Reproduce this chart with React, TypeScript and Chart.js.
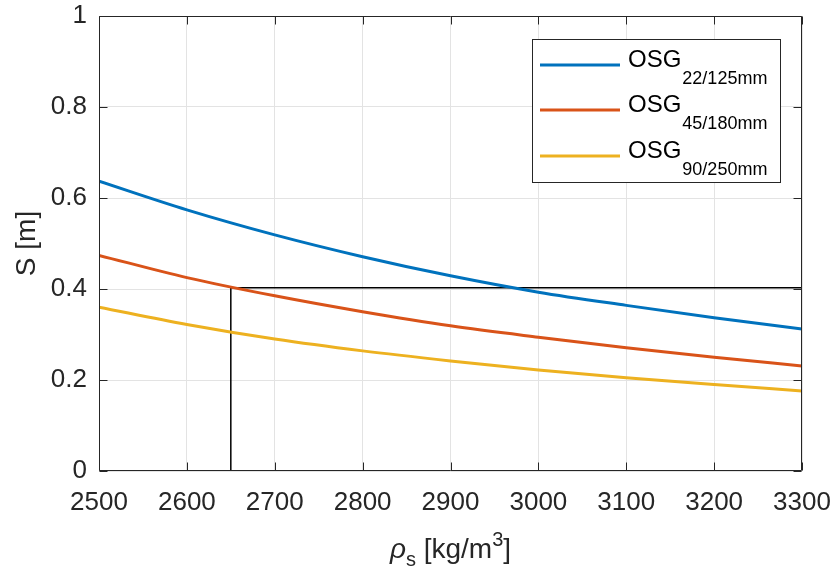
import React, { useEffect, useRef } from "react";
import { Chart, registerables } from "chart.js";

Chart.register(...registerables);

// ---- data ----
const densities = [2500, 2600, 2700, 2800, 2900, 3000, 3100, 3200, 3300];
const s22 = [0.637, 0.574, 0.519, 0.471, 0.429, 0.393, 0.364, 0.337, 0.312];
const s45 = [0.474, 0.425, 0.385, 0.350, 0.319, 0.294, 0.271, 0.250, 0.231];
const s90 = [0.360, 0.322, 0.290, 0.264, 0.242, 0.222, 0.205, 0.190, 0.176];
const seriesNames = ["OSG", "OSG", "OSG"];
const seriesSubs = ["22/125mm", "45/180mm", "90/250mm"];
const seriesColors = ["#0072BD", "#D95319", "#EDB120"];
const refDensity = 2650;
const refS = 0.403;
const xTicks = [2500, 2600, 2700, 2800, 2900, 3000, 3100, 3200, 3300];
const yTicks = [0, 0.2, 0.4, 0.6, 0.8, 1];
const yTickLabels = ["0", "0.2", "0.4", "0.6", "0.8", "1"];
const yTitle = "S [m]";

const FONT = '"Liberation Sans", Arial, Helvetica, sans-serif';
const AX = "#262626";

const framePlugin = {
  id: "frame",
  afterDatasetsDraw(chart: any) {
    const { ctx, chartArea } = chart;
    const xs = chart.scales.x;
    const ys = chart.scales.y;
    const L = Math.round(chartArea.left) + 0.5;
    const R = Math.round(chartArea.right) - 0.5;
    const T = Math.round(chartArea.top) + 0.5;
    const B = Math.round(chartArea.bottom) - 0.5;
    ctx.save();
    ctx.strokeStyle = AX;
    ctx.lineWidth = 1;
    ctx.beginPath();
    ctx.rect(L, T, R - L, B - T);
    ctx.stroke();
    const tl = 8;
    ctx.beginPath();
    xTicks.forEach((v) => {
      const px = Math.round(xs.getPixelForValue(v)) + 0.5;
      ctx.moveTo(px, B);
      ctx.lineTo(px, B - tl);
      ctx.moveTo(px, T);
      ctx.lineTo(px, T + tl);
    });
    yTicks.forEach((v) => {
      const py = Math.round(ys.getPixelForValue(v)) + 0.5;
      ctx.moveTo(L, py);
      ctx.lineTo(L + tl, py);
      ctx.moveTo(R, py);
      ctx.lineTo(R - tl, py);
    });
    ctx.stroke();

    // legend
    const lx = 532.5, ly = 39.5, lw = 248, lh = 143;
    ctx.fillStyle = "#ffffff";
    ctx.fillRect(lx, ly, lw, lh);
    ctx.strokeStyle = AX;
    ctx.strokeRect(lx, ly, lw, lh);
    const rowY = [65, 110, 156];
    seriesNames.forEach((name, i) => {
      ctx.strokeStyle = seriesColors[i];
      ctx.lineWidth = 3;
      ctx.beginPath();
      ctx.moveTo(540, rowY[i]);
      ctx.lineTo(620, rowY[i]);
      ctx.stroke();
      ctx.fillStyle = "#000000";
      ctx.textBaseline = "alphabetic";
      ctx.textAlign = "left";
      ctx.font = `24px ${FONT}`;
      ctx.fillText(name, 628, rowY[i] + 2);
      const w = ctx.measureText(name).width;
      ctx.font = `18px ${FONT}`;
      ctx.fillText(seriesSubs[i], 628 + w + 1, rowY[i] + 19);
    });

    // y title
    ctx.fillStyle = AX;
    ctx.font = `28px ${FONT}`;
    ctx.textAlign = "center";
    ctx.textBaseline = "middle";
    ctx.save();
    ctx.translate(27, (chartArea.top + chartArea.bottom) / 2);
    ctx.rotate(-Math.PI / 2);
    ctx.fillText(yTitle, 0, 0);
    ctx.restore();

    // x title: rho_s [kg/m^3]
    const parts = [
      { t: "\u03C1", f: `italic 28px ${FONT}`, dy: 0 },
      { t: "s", f: `20px ${FONT}`, dy: 8 },
      { t: " [kg/m", f: `28px ${FONT}`, dy: 0 },
      { t: "3", f: `20px ${FONT}`, dy: -12 },
      { t: "]", f: `28px ${FONT}`, dy: 0 },
    ];
    let total = 0;
    const widths = parts.map((p) => {
      ctx.font = p.f;
      const w = ctx.measureText(p.t).width;
      total += w;
      return w;
    });
    let cx = (chartArea.left + chartArea.right) / 2 - total / 2;
    const base = 558;
    ctx.textAlign = "left";
    ctx.textBaseline = "alphabetic";
    parts.forEach((p, i) => {
      ctx.font = p.f;
      ctx.fillText(p.t, cx, base + p.dy);
      cx += widths[i];
    });
    ctx.restore();
  },
};

export default function App() {
  const ref = useRef<HTMLCanvasElement | null>(null);
  useEffect(() => {
    if (!ref.current) return;
    const mk = (ys: number[]) => densities.map((x, i) => ({ x, y: ys[i] }));
    const chart = new Chart(ref.current, {
      type: "line",
      data: {
        datasets: [
          { data: mk(s22), borderColor: seriesColors[0], borderWidth: 3, pointRadius: 0, cubicInterpolationMode: "monotone", fill: false },
          { data: mk(s45), borderColor: seriesColors[1], borderWidth: 3, pointRadius: 0, cubicInterpolationMode: "monotone", fill: false },
          { data: mk(s90), borderColor: seriesColors[2], borderWidth: 3, pointRadius: 0, cubicInterpolationMode: "monotone", fill: false },
          {
            data: [
              { x: refDensity, y: 0 },
              { x: refDensity, y: refS },
              { x: xTicks[xTicks.length - 1], y: refS },
            ],
            borderColor: "#000000",
            borderWidth: 1.5,
            pointRadius: 0,
            tension: 0,
            fill: false,
          },
        ],
      },
      options: {
        responsive: false,
        animation: false,
        layout: { padding: { top: 16, right: 33, left: 0, bottom: 0 } },
        plugins: { legend: { display: false }, tooltip: { enabled: false }, title: { display: false } },
        scales: {
          x: {
            type: "linear",
            min: 2500,
            max: 3300,
            afterBuildTicks: (s: any) => {
              s.ticks = xTicks.map((v) => ({ value: v }));
            },
            afterFit: (s: any) => {
              s.height = 100;
              s.paddingLeft = 0;
              s.paddingRight = 0;
            },
            grid: { color: "#e3e3e3", drawTicks: false, lineWidth: 1 },
            border: { display: false },
            ticks: {
              autoSkip: false,
              maxRotation: 0,
              padding: 16,
              color: AX,
              font: { family: FONT, size: 26 },
              callback: (v: any) => String(v),
            },
          },
          y: {
            type: "linear",
            min: 0,
            max: 1,
            afterBuildTicks: (s: any) => {
              s.ticks = yTicks.map((v) => ({ value: v }));
            },
            afterFit: (s: any) => {
              s.width = 99;
              s.paddingTop = 0;
              s.paddingBottom = 0;
            },
            grid: { color: "#e3e3e3", drawTicks: false, lineWidth: 1 },
            border: { display: false },
            ticks: {
              autoSkip: false,
              padding: 12,
              color: AX,
              font: { family: FONT, size: 26 },
              callback: (v: any) => {
                const i = yTicks.indexOf(v);
                return i >= 0 ? yTickLabels[i] : "";
              },
            },
          },
        },
      },
      plugins: [framePlugin],
    } as any);
    return () => chart.destroy();
  }, []);
  return (
    <div style={{ position: "absolute", left: 0, top: 0, width: 835, height: 571, background: "#fff" }}>
      <canvas ref={ref} width={835} height={571} style={{ width: 835, height: 571, display: "block" }} />
    </div>
  );
}
